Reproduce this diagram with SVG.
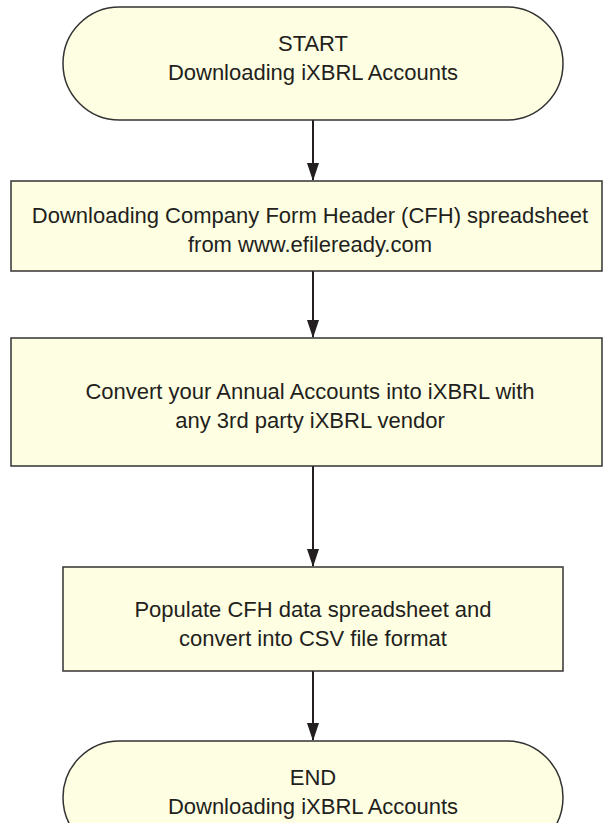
<svg xmlns="http://www.w3.org/2000/svg" width="607" height="823" viewBox="0 0 607 823">
<style>
.n{fill:#FEFEE2;stroke:#333;stroke-width:1.5}
.t{font-family:"Liberation Sans",Arial,sans-serif;font-size:22px;fill:#231f20;text-anchor:middle}
.c{stroke:#231f20;stroke-width:2;fill:none;marker-end:url(#ah)}
</style>
<defs>
<marker id="ah" markerWidth="18" markerHeight="12" refX="17" refY="6" orient="auto" markerUnits="userSpaceOnUse" viewBox="0 0 18 12">
<path d="M0,0 L18,6 L0,12 Z" fill="#231f20"/>
</marker>
</defs>
<g id="connectors">
<line class="c" x1="313" y1="120" x2="313" y2="180"/>
<line class="c" x1="313" y1="271" x2="313" y2="337"/>
<line class="c" x1="313" y1="466" x2="313" y2="566"/>
<line class="c" x1="313" y1="671" x2="313" y2="740"/>
</g>
<g id="start">
<rect class="n" x="63" y="7" width="500" height="113" rx="56.5" ry="56.5"/>
<text class="t" x="313" y="51">START</text>
<text class="t" x="313" y="80">Downloading iXBRL Accounts</text>
</g>
<g id="step1">
<rect class="n" x="11" y="181" width="591" height="90"/>
<text class="t" x="310" y="223">Downloading Company Form Header (CFH) spreadsheet</text>
<text class="t" x="310" y="252">from www.efileready.com</text>
</g>
<g id="step2">
<rect class="n" x="11" y="338" width="591" height="128"/>
<text class="t" x="310" y="399">Convert your Annual Accounts into iXBRL with</text>
<text class="t" x="310" y="428">any 3rd party iXBRL vendor</text>
</g>
<g id="step3">
<rect class="n" x="63" y="567" width="500" height="104"/>
<text class="t" x="313" y="617">Populate CFH data spreadsheet and</text>
<text class="t" x="313" y="646">convert into CSV file format</text>
</g>
<g id="end">
<rect class="n" x="63" y="741" width="500" height="113" rx="56.5" ry="56.5"/>
<text class="t" x="313" y="785">END</text>
<text class="t" x="313" y="814">Downloading iXBRL Accounts</text>
</g>
</svg>
